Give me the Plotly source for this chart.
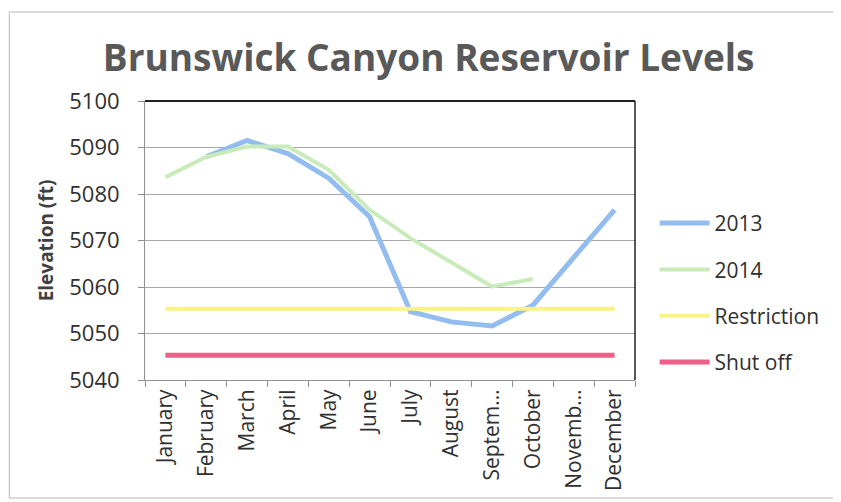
import plotly.graph_objects as go

months = ['January', 'February', 'March', 'April', 'May', 'June', 'July',
          'August', 'Septem…', 'October', 'Novemb…', 'December']
levels_2013 = [None, 5088, 5091.5, 5088.7, 5083.4, 5075.1, 5054.7, 5052.5, 5051.6, 5056.1, 5066.5, 5076.6]
levels_2014 = [5083.6, 5088, 5090.2, 5090.2, 5085.2, 5076.6, 5070.5, 5065.4, 5060.1, 5061.7, None, None]
restriction = [5055.3] * 12
shut_off = [5045.3] * 12

font = "Open Sans"
fig = go.Figure()
series = [('2013', levels_2013, '#93bdee', 5),
          ('2014', levels_2014, '#c9ebba', 4),
          ('Restriction', restriction, '#f8f383', 4),
          ('Shut off', shut_off, '#ef5f86', 5)]
for name, vals, color, w in series:
    fig.add_trace(go.Scatter(x=months, y=vals, name=name, mode='lines', legendgroup=name,
                             line=dict(color=color, width=w)))

# page body has an 8px margin, so the figure is sized to fill the rest of the window
fig.update_layout(
    width=833, height=494,
    paper_bgcolor='white', plot_bgcolor='white',
    margin=dict(l=137, r=206, t=93, b=122),
    font=dict(family=font, color='#404040', size=17),
    title=dict(text='<b>Brunswick Canyon Reservoir Levels</b>', x=0.505, xanchor='center',
               y=0.899, yanchor='middle', font=dict(size=37, color='#595959', family=font)),
    legend=dict(x=1.04, y=0.312, xanchor='left', yanchor='middle', tracegroupgap=16,
                font=dict(size=21, color='#303030'), itemwidth=50),
    showlegend=True,
)
fig.update_xaxes(type='category', range=[-0.5, 11.5], tickangle=-90, tickson='boundaries',
                 ticks='outside', ticklen=6, tickcolor='#909090', showgrid=False,
                 showline=True, linecolor='#909090', linewidth=1, automargin=False,
                 tickfont=dict(size=21, color='#303030'))
fig.update_yaxes(range=[5040, 5100], dtick=10, showgrid=True, gridcolor='#a8a8a8', gridwidth=1,
                 ticks='outside', ticklen=6, tickcolor='#909090', showline=True,
                 linecolor='#909090', zeroline=False, automargin=False, ticklabelstandoff=14,
                 tickfont=dict(size=22, color='#303030'),
                 title=dict(text='<b>Elevation (ft)</b>', standoff=10,
                            font=dict(size=19, color='#404040')))

# plot frame on top and right
fig.add_shape(type='line', xref='paper', yref='paper', x0=0, x1=1, y0=1, y1=1,
              line=dict(color='#202020', width=2))
fig.add_shape(type='line', xref='paper', yref='paper', x0=1, x1=1, y0=0, y1=1,
              line=dict(color='#202020', width=1.5))
# outer chart border: left, top and bottom edges (right edge is off the page)
border = dict(color='#b8b8b8', width=1)
fig.add_shape(type='line', xref='paper', yref='paper', x0=-0.277, x1=-0.277, y0=-0.423, y1=1.319, line=border)
fig.add_shape(type='line', xref='paper', yref='paper', x0=-0.277, x1=1.42, y0=1.319, y1=1.319, line=border)
fig.add_shape(type='line', xref='paper', yref='paper', x0=-0.277, x1=1.42, y0=-0.423, y1=-0.423, line=border)

fig.write_html("out.html")
